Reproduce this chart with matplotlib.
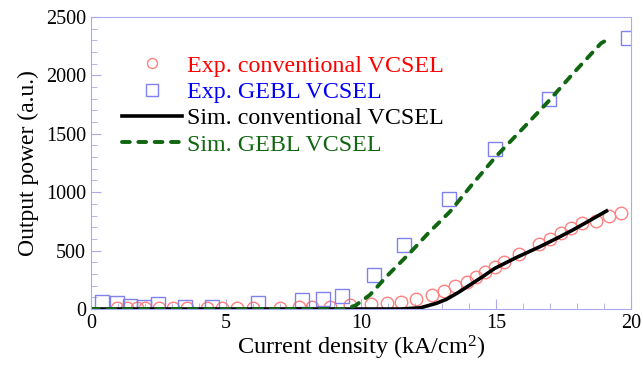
import matplotlib
matplotlib.use("Agg")
import matplotlib.pyplot as plt
from matplotlib.ticker import MultipleLocator

plt.rcParams['font.family'] = ['Liberation Serif', 'DejaVu Serif']
plt.rcParams['mathtext.default'] = 'regular'

# experimental data, conventional VCSEL
exp_conv_x = [0.95, 1.32, 1.69, 2.0, 2.52, 3.04, 3.56, 4.28, 4.84, 5.4, 6.0, 7.0, 7.7, 8.2, 8.85,
              9.6, 10.36, 10.95, 11.48, 12.06, 12.65, 13.07, 13.5, 13.94, 14.26, 14.6, 14.96,
              15.3, 15.85, 16.6, 17.0, 17.43, 17.8, 18.2, 18.7, 19.2, 19.65]
exp_conv_y = [8, 8, 8, 10, 10, 10, 10, 10, 10, 12, 12, 12, 14, 15, 20,
              35, 43, 54, 63, 86, 120, 157, 200, 234, 277, 314, 362,
              400, 471, 556, 599, 648, 691, 734, 756, 796, 819]

# experimental data, GEBL VCSEL
exp_gebl_x = [0.4, 0.96, 1.44, 1.96, 2.5, 3.5, 4.5, 6.2, 7.8, 8.6, 9.3,
              10.5, 11.6, 13.26, 14.96, 16.96, 19.9]
exp_gebl_y = [60, 50, 25, 20, 45, 15, 15, 50, 75, 85, 110,
              295, 548, 942, 1370, 1798, 2320]

# simulation curves
sim_conv_x = [0, 11.5, 12.2, 12.8, 13.17, 13.6, 14.0, 14.5, 14.96, 15.8, 16.63, 17.3, 17.85, 18.5, 19.1]
sim_conv_y = [0, 0, 10, 49, 83, 140, 200, 275, 348, 445, 533, 610, 676, 760, 839]

sim_gebl_x = [0, 9.4, 9.8, 10.33, 11.0, 11.8, 12.5, 13.3, 14.1, 15.0, 16.0, 16.94, 17.9, 18.9, 19.1]
sim_gebl_y = [0, 0, 30, 120, 290, 476, 650, 833, 1060, 1304, 1545, 1775, 2025, 2275, 2300]

fig = plt.figure(figsize=(6.43, 3.67), dpi=100)
ax = fig.add_axes([0.1415, 0.158, 0.8395, 0.796])

ax.plot(exp_conv_x, exp_conv_y, 'o', mfc='none', mec='#ff8080', ms=9, mew=1.0,
        label='Exp. conventional VCSEL')
ax.plot(exp_gebl_x, exp_gebl_y, 's', mfc='none', mec='#8080ee', ms=10, mew=1.0,
        label='Exp. GEBL VCSEL')
ax.plot(sim_conv_x, sim_conv_y, '-', color='black', lw=2.6,
        label='Sim. conventional VCSEL')
ax.plot(sim_gebl_x, sim_gebl_y, '--', color='#116611', lw=2.8, dashes=(2.0, 2.2),
        dash_capstyle='round', label='Sim. GEBL VCSEL')

ax.set_xlim(0, 20)
ax.set_ylim(0, 2500)
ax.xaxis.set_major_locator(MultipleLocator(5))
ax.xaxis.set_minor_locator(MultipleLocator(1))
ax.yaxis.set_major_locator(MultipleLocator(500))
ax.yaxis.set_minor_locator(MultipleLocator(100))

spine_col = '#aaaaee'
for s in ax.spines.values():
    s.set_color(spine_col)
ax.tick_params(which='both', direction='in', color=spine_col, labelsize=14.5,
               top=False, right=False)
ax.tick_params(which='major', length=7)
ax.tick_params(which='minor', length=4)

ax.set_xlabel('Current density (kA/cm$^2$)', fontsize=17.5, labelpad=1)
ax.set_ylabel('Output power (a.u.)', fontsize=17, labelpad=5)

leg = ax.legend(loc='upper left', bbox_to_anchor=(0.04, 0.903), frameon=False,
                fontsize=17.3, handlelength=2.5, handletextpad=0.2,
                labelspacing=0.19, borderaxespad=0, markerscale=0.8)
for txt, c in zip(leg.get_texts(), ['red', 'blue', 'black', '#116611']):
    txt.set_color(c)

fig.savefig('out.png', dpi=100)
